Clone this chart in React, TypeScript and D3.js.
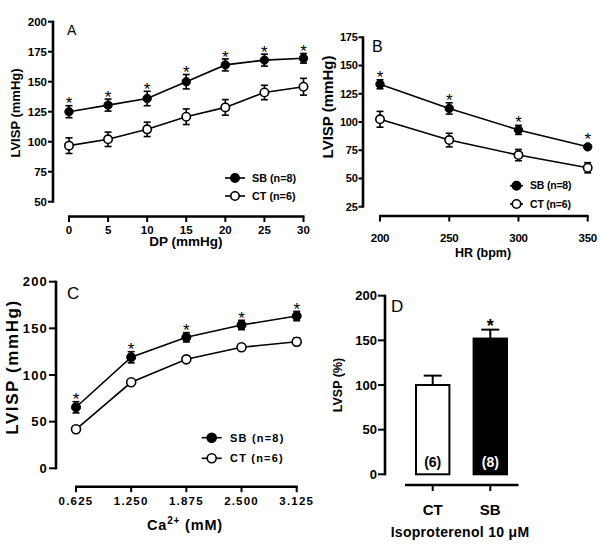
import React from "react";
import * as d3 from "d3";

// ---------- Data ----------
const dpLevels = [0, 5, 10, 15, 20, 25, 30];
const dpSB = [125, 130.5, 136, 150, 164, 168, 169.5];
const dpSBerr = [5, 5, 6, 6, 5, 5, 4];
const dpCT = [96.7, 102, 110.3, 120.8, 128.6, 141, 145.8];
const dpCTerr = [6.5, 6, 6, 6.5, 6.5, 6, 7];
const dpTicksY = [50, 75, 100, 125, 150, 175, 200];

const hrLevels = [200, 250, 300, 350];
const hrSB = [133.4, 112, 93, 78];
const hrSBerr = [4, 5, 4, 1.5];
const hrCT = [102.4, 84, 70.7, 59.5];
const hrCTerr = [7, 6, 5, 4.5];
const hrTicksY = [25, 50, 75, 100, 125, 150, 175];

const caLevels = [0.625, 1.25, 1.875, 2.5, 3.125];
const caSB = [65.4, 119, 140.4, 153.6, 163.2];
const caSBerr = [6, 6, 5, 5, 5];
const caCT = [41.8, 92.2, 116.8, 129.7, 135.7];
const caCTerr = [1.5, 1.5, 1.5, 1.5, 4];
const caTicksY = [0, 50, 100, 150, 200];

const isoGroups = ["CT", "SB"];
const isoValues = [100, 152];
const isoErr = [10.5, 10];
const isoN = ["(6)", "(8)"];
const isoTicksY = [0, 50, 100, 150, 200];

const legendLabels = ["SB (n=8)", "CT (n=6)"];

const FONT = "'Liberation Sans', Arial, Helvetica, sans-serif";

type PanelProps = {
  letter: string;
  letterX: number;
  letterY: number;
  letterSize: number;
  xs: number[];
  sb: number[];
  sbErr: number[];
  ct: number[];
  ctErr: number[];
  yTicks: number[];
  yDomain: [number, number];
  yRange: [number, number];
  xRange: [number, number];
  yAxisX: number;
  xAxisY: number;
  yTickLen: number;
  yTickFont: number;
  xTickFont: number;
  tickSpacing: number;
  xFmt: (v: number) => string;
  yLabel: string;
  yLabelX: number;
  yLabelY: number;
  yLabelSize: number;
  yLabelSpacing: number;
  xTitle: React.ReactNode;
  xTickLabelY: number;
  legX: number[];
  legY: number[];
  legFont: number;
  legSpacing: number;
  starGap: number;
  starSize: number;
  r: number;
};

function LinePanel(p: PanelProps) {
  const x = d3.scaleLinear().domain([p.xs[0], p.xs[p.xs.length - 1]]).range(p.xRange);
  const y = d3.scaleLinear().domain(p.yDomain).range(p.yRange);
  const line = d3
    .line<number>()
    .x((_, i) => x(p.xs[i]))
    .y((d) => y(d));
  const cap = 3.5;
  const errBars = (vals: number[], errs: number[]) =>
    vals.map((v, i) => {
      const cx = x(p.xs[i]);
      const t = y(v + errs[i]);
      const b = y(v - errs[i]);
      return (
        <g key={i} stroke="#000" strokeWidth={1.6}>
          <line x1={cx} x2={cx} y1={t} y2={b} />
          <line x1={cx - cap} x2={cx + cap} y1={t} y2={t} />
          <line x1={cx - cap} x2={cx + cap} y1={b} y2={b} />
        </g>
      );
    });
  return (
    <g fontFamily={FONT}>
      <line x1={p.yAxisX} x2={p.yAxisX} y1={y(p.yDomain[1]) - 1} y2={y(p.yDomain[0]) + 1} stroke="#000" strokeWidth={2.6} />
      {p.yTicks.map((t) => (
        <g key={t}>
          <line x1={p.yAxisX - p.yTickLen} x2={p.yAxisX} y1={y(t)} y2={y(t)} stroke="#000" strokeWidth={2} />
          <text
            x={p.yAxisX - p.yTickLen - 1}
            y={y(t) + p.yTickFont * 0.36}
            textAnchor="end"
            fontSize={p.yTickFont}
            fontWeight="bold"
            letterSpacing={p.tickSpacing}
          >
            {t}
          </text>
        </g>
      ))}
      <line x1={p.xRange[0] - 1} x2={p.xRange[1] + 1} y1={p.xAxisY} y2={p.xAxisY} stroke="#000" strokeWidth={2.6} />
      {p.xs.map((t) => (
        <g key={t}>
          <line x1={x(t)} x2={x(t)} y1={p.xAxisY} y2={p.xAxisY + 5.5} stroke="#000" strokeWidth={2} />
          <text
            x={x(t)}
            y={p.xTickLabelY}
            textAnchor="middle"
            fontSize={p.xTickFont}
            fontWeight="bold"
            letterSpacing={p.tickSpacing}
          >
            {p.xFmt(t)}
          </text>
        </g>
      ))}
      <text
        transform={`translate(${p.yLabelX},${p.yLabelY}) rotate(-90)`}
        textAnchor="middle"
        fontSize={p.yLabelSize}
        fontWeight="bold"
        letterSpacing={p.yLabelSpacing}
      >
        {p.yLabel}
      </text>
      {p.xTitle}
      <text x={p.letterX} y={p.letterY} fontSize={p.letterSize}>
        {p.letter}
      </text>
      <path d={line(p.ct) || ""} fill="none" stroke="#000" strokeWidth={1.6} />
      <path d={line(p.sb) || ""} fill="none" stroke="#000" strokeWidth={1.6} />
      {errBars(p.ct, p.ctErr)}
      {errBars(p.sb, p.sbErr)}
      {p.ct.map((v, i) => (
        <circle key={i} cx={x(p.xs[i])} cy={y(v)} r={p.r} fill="#fff" stroke="#000" strokeWidth={1.6} />
      ))}
      {p.sb.map((v, i) => (
        <circle key={i} cx={x(p.xs[i])} cy={y(v)} r={p.r} fill="#000" stroke="#000" strokeWidth={1} />
      ))}
      {p.sb.map((v, i) => {
        const top = Math.min(y(v + p.sbErr[i]), y(v) - p.r);
        const cy = top - p.starGap;
        return (
          <text key={i} x={x(p.xs[i])} y={cy + p.starSize * 0.575} textAnchor="middle" fontSize={p.starSize} fill="#000">
            *
          </text>
        );
      })}
      {legendLabels.map((lab, i) => {
        const ly = p.legY[i];
        const mx = (p.legX[0] + p.legX[1]) / 2;
        return (
          <g key={lab}>
            <line x1={p.legX[0]} x2={p.legX[1]} y1={ly} y2={ly} stroke="#000" strokeWidth={1.6} />
            <circle cx={mx} cy={ly} r={p.r} fill={i === 0 ? "#000" : "#fff"} stroke="#000" strokeWidth={1.6} />
            <text
              x={p.legX[2]}
              y={ly + p.legFont * 0.36}
              fontSize={p.legFont}
              fontWeight="bold"
              letterSpacing={p.legSpacing}
            >
              {lab}
            </text>
          </g>
        );
      })}
    </g>
  );
}

function BarPanel() {
  const yAxisX = 385;
  const y = d3.scaleLinear().domain([0, 200]).range([474.3, 295.7]);
  const xb = d3.scaleBand().domain(isoGroups).range([404.5, 518.5]).paddingInner(0.42).paddingOuter(0.2);
  const cap = 9;
  return (
    <g fontFamily={FONT}>
      <line x1={yAxisX} x2={yAxisX} y1={y(200) - 1} y2={y(0) + 1} stroke="#000" strokeWidth={2.6} />
      {isoTicksY.map((t) => (
        <g key={t}>
          <line x1={yAxisX - 7} x2={yAxisX} y1={y(t)} y2={y(t)} stroke="#000" strokeWidth={2} />
          <text x={yAxisX - 8} y={y(t) + 13 * 0.36} textAnchor="end" fontSize={13} fontWeight="bold">
            {t}
          </text>
        </g>
      ))}
      <text transform={`translate(${341.5},${385}) rotate(-90)`} textAnchor="middle" fontSize={12.5} fontWeight="bold">
        LVSP (%)
      </text>
      <text x={391} y={312} fontSize={17}>
        D
      </text>
      {isoGroups.map((g, i) => {
        const bx = xb(g)!;
        const bw = xb.bandwidth();
        const cx = bx + bw / 2;
        const top = y(isoValues[i]);
        const et = y(isoValues[i] + isoErr[i]);
        return (
          <g key={g}>
            <line x1={cx} x2={cx} y1={et} y2={top} stroke="#000" strokeWidth={2} />
            <line x1={cx - cap} x2={cx + cap} y1={et} y2={et} stroke="#000" strokeWidth={2} />
            <rect
              x={bx}
              y={top}
              width={bw}
              height={y(0) - top}
              fill={i === 0 ? "#fff" : "#000"}
              stroke="#000"
              strokeWidth={2}
            />
            <text
              x={cx}
              y={466.5}
              textAnchor="middle"
              fontSize={14}
              fontWeight="bold"
              fill={i === 0 ? "#000" : "#fff"}
            >
              {isoN[i]}
            </text>
            <line x1={cx} x2={cx} y1={485} y2={491} stroke="#000" strokeWidth={2} />
            <text x={cx} y={514.5} textAnchor="middle" fontSize={15} fontWeight="bold">
              {g}
            </text>
            {i === 1 && (
              <text x={cx} y={321.7 + 18 * 0.575} textAnchor="middle" fontSize={18} fontWeight="bold">
                *
              </text>
            )}
          </g>
        );
      })}
      <line x1={405} x2={518.5} y1={485} y2={485} stroke="#000" strokeWidth={2.6} />
      <text x={460} y={537} textAnchor="middle" fontSize={14} fontWeight="bold" letterSpacing={0.3}>
        Isoproterenol 10 μM
      </text>
    </g>
  );
}

export default function App() {
  return (
    <svg width={600} height={553} style={{ display: "block", position: "absolute", left: 0, top: 0 }}>
      <rect width={600} height={553} fill="#fff" />
      <LinePanel
        letter="A"
        letterX={67}
        letterY={35}
        letterSize={14}
        xs={dpLevels}
        sb={dpSB}
        sbErr={dpSBerr}
        ct={dpCT}
        ctErr={dpCTerr}
        yTicks={dpTicksY}
        yDomain={[50, 200]}
        yRange={[201.7, 21.7]}
        xRange={[69, 303.5]}
        yAxisX={53}
        xAxisY={216.5}
        yTickLen={5}
        yTickFont={11.5}
        xTickFont={11.5}
        tickSpacing={0}
        xFmt={(v) => String(v)}
        yLabel="LVISP (mmHg)"
        yLabelX={20}
        yLabelY={113}
        yLabelSize={13}
        yLabelSpacing={0}
        xTitle={
          <text x={186} y={246} textAnchor="middle" fontSize={13.5} fontWeight="bold">
            DP (mmHg)
          </text>
        }
        xTickLabelY={233.5}
        legX={[225, 245, 252]}
        legY={[178, 196]}
        legFont={10.8}
        legSpacing={0}
        starGap={6}
        starSize={17}
        r={4.2}
      />
      <LinePanel
        letter="B"
        letterX={372}
        letterY={52}
        letterSize={16}
        xs={hrLevels}
        sb={hrSB}
        sbErr={hrSBerr}
        ct={hrCT}
        ctErr={hrCTerr}
        yTicks={hrTicksY}
        yDomain={[25, 175]}
        yRange={[206.7, 37.3]}
        xRange={[380, 587.7]}
        yAxisX={363}
        xAxisY={216}
        yTickLen={4.5}
        yTickFont={11}
        xTickFont={11.5}
        tickSpacing={-0.3}
        xFmt={(v) => String(v)}
        yLabel="LVISP (mmHg)"
        yLabelX={333}
        yLabelY={107}
        yLabelSize={15}
        yLabelSpacing={0}
        xTitle={
          <text x={483} y={257} textAnchor="middle" fontSize={12.5} fontWeight="bold">
            HR (bpm)
          </text>
        }
        xTickLabelY={242}
        legX={[510, 523, 530]}
        legY={[185.7, 204]}
        legFont={10.5}
        legSpacing={-0.2}
        starGap={7}
        starSize={17}
        r={4.2}
      />
      <LinePanel
        letter="C"
        letterX={67}
        letterY={299}
        letterSize={17}
        xs={caLevels}
        sb={caSB}
        sbErr={caSBerr}
        ct={caCT}
        ctErr={caCTerr}
        yTicks={caTicksY}
        yDomain={[0, 200]}
        yRange={[468.3, 281.7]}
        xRange={[76, 296.7]}
        yAxisX={56}
        xAxisY={486.7}
        yTickLen={7}
        yTickFont={13}
        xTickFont={11.5}
        tickSpacing={1.2}
        xFmt={(v) => v.toFixed(3)}
        yLabel="LVISP (mmHg)"
        yLabelX={18}
        yLabelY={367}
        yLabelSize={17}
        yLabelSpacing={1.6}
        xTitle={
          <text x={185} y={530} textAnchor="middle" fontSize={14.5} fontWeight="bold" letterSpacing={0.8}>
            Ca
            <tspan fontSize={10} dy={-6}>
              2+
            </tspan>
            <tspan dy={6}> (mM)</tspan>
          </text>
        }
        xTickLabelY={505}
        legX={[201.7, 221.7, 230]}
        legY={[437.7, 458.3]}
        legFont={11}
        legSpacing={1.2}
        starGap={6}
        starSize={17}
        r={4.5}
      />
      <BarPanel />
    </svg>
  );
}
